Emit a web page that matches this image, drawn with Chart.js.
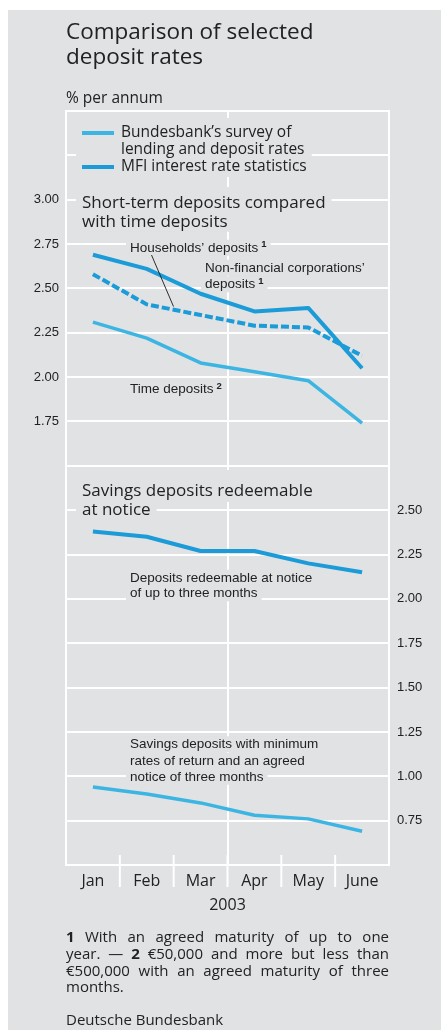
<!DOCTYPE html>
<html>
<head>
<meta charset="utf-8">
<title>Comparison of selected deposit rates</title>
<script src="https://cdn.jsdelivr.net/npm/chart.js@4.4.1/dist/chart.umd.min.js"></script>
<style>
  html, body { margin: 0; padding: 0; background: #fff; }
  #chartBox { position: relative; width: 441px; height: 1030px; }
</style>
</head>
<body>
<div id="chartBox"><canvas id="depositChart" width="441" height="1030"></canvas></div>
<script>
// months of 2003
const months = ["Jan", "Feb", "Mar", "Apr", "May", "June"];

// upper panel, % per annum, left axis
const nfcDeposits = [2.69, 2.61, 2.47, 2.37, 2.39, 2.05];        // MFI statistics
const householdDeposits = [2.58, 2.41, 2.35, 2.29, 2.28, 2.12];  // MFI statistics
const timeDeposits = [2.31, 2.22, 2.08, 2.03, 1.98, 1.74];       // Bundesbank survey

// lower panel, % per annum, right axis
const noticeDeposits = [2.38, 2.35, 2.27, 2.27, 2.20, 2.15];     // MFI statistics
const savingsMinRate = [0.94, 0.90, 0.85, 0.78, 0.76, 0.69];     // Bundesbank survey

// tick labels that are printed on each axis
const leftTicks = [1.75, 2.00, 2.25, 2.50, 2.75, 3.00];
const rightTicks = [0.75, 1.00, 1.25, 1.50, 1.75, 2.00, 2.25, 2.50];

const BG = "#e1e2e4";
const INK = "#222222";
const MFI_BLUE = "#1b9bd7";
const SURVEY_BLUE = "#3db5e2";

const SANS = '"Open Sans", "Noto Sans", sans-serif';
const NARROW = '"Liberation Sans", Arial, sans-serif';

function tickText(list) {
  return function (value) {
    const v = Math.round(value * 100) / 100;
    return list.indexOf(v) >= 0 ? v.toFixed(2) : "";
  };
}

// text lines inside the plot, each one on its own grey patch
const legendLines = [
  { text: "Bundesbank’s survey of", y: 137 },
  { text: "lending and deposit rates", y: 154 },
  { text: "MFI interest rate statistics", y: 171 }
];
const headLines = [
  { text: "Short-term deposits compared", x: 82, y: 208, top: 21, bottom: 5 },
  { text: "with time deposits", x: 82, y: 226.7, top: 13.7, bottom: 5 },
  { text: "Savings deposits redeemable", x: 82, y: 496, top: 26, bottom: 6 },
  { text: "at notice", x: 82, y: 515, top: 13, bottom: 5 }
];
const noteLines = [
  { text: "Households’ deposits", sup: "1", x: 130, y: 251.7 },
  { text: "Non-financial corporations’", x: 205, y: 271.7 },
  { text: "deposits", sup: "1", x: 205, y: 288.3 },
  { text: "Time deposits", sup: "2", x: 130, y: 393.3 },
  { text: "Deposits redeemable at notice", x: 130, y: 581.7 },
  { text: "of up to three months", x: 130, y: 597.3 },
  { text: "Savings deposits with minimum", x: 130, y: 748.3 },
  { text: "rates of return and an agreed", x: 130, y: 765 },
  { text: "notice of three months", x: 130, y: 780.7 }
];

// footnote, line by line, bold runs marked
const footLines = [
  [["1", true], ["With"], ["an"], ["agreed"], ["maturity"], ["of"], ["up"], ["to"], ["one"]],
  [["year."], ["—"], ["2", true], ["€50,000"], ["and"], ["more"], ["but"], ["less"], ["than"]],
  [["€500,000"], ["with"], ["an"], ["agreed"], ["maturity"], ["of"], ["three"]],
  [["months."]]
];

const panelPlugin = {
  id: "panelText",
  beforeDraw(chart) {
    const ctx = chart.ctx;
    ctx.save();
    ctx.fillStyle = "#ffffff";
    ctx.fillRect(0, 0, chart.width, chart.height);
    ctx.fillStyle = BG;
    ctx.fillRect(8, 10, chart.width - 8, chart.height - 10);
    ctx.restore();
  },
  beforeDatasetsDraw(chart) {
    const ctx = chart.ctx;
    const area = chart.chartArea;
    const xs = chart.scales.x;
    ctx.save();
    ctx.textAlign = "left";
    ctx.textBaseline = "alphabetic";

    // month separators below the frame
    ctx.strokeStyle = "#ffffff";
    ctx.lineWidth = 2;
    for (let i = 1; i < months.length; i++) {
      const px = (xs.getPixelForValue(i - 1) + xs.getPixelForValue(i)) / 2;
      ctx.beginPath();
      ctx.moveTo(px, area.bottom - 10);
      ctx.lineTo(px, area.bottom + 22);
      ctx.stroke();
    }

    // legend
    ctx.font = "15.5px " + SANS;
    let maxW = 0;
    legendLines.forEach(l => { maxW = Math.max(maxW, ctx.measureText(l.text).width); });
    ctx.fillStyle = BG;
    ctx.fillRect(76, 118, 121 + maxW + 5 - 76, 59);
    ctx.lineWidth = 4;
    ctx.strokeStyle = SURVEY_BLUE;
    ctx.beginPath(); ctx.moveTo(82, 133); ctx.lineTo(114, 133); ctx.stroke();
    ctx.strokeStyle = MFI_BLUE;
    ctx.beginPath(); ctx.moveTo(82, 167); ctx.lineTo(114, 167); ctx.stroke();
    ctx.fillStyle = INK;
    legendLines.forEach(l => ctx.fillText(l.text, 121, l.y));

    // panel headings
    ctx.font = "17px " + SANS;
    headLines.forEach(l => {
      const w = ctx.measureText(l.text).width;
      ctx.fillStyle = BG;
      ctx.fillRect(l.x - 6, l.y - l.top, w + 12, l.top + l.bottom);
      ctx.fillStyle = INK;
      ctx.fillText(l.text, l.x, l.y);
    });

    // series labels
    noteLines.forEach(l => {
      ctx.font = "13.5px " + NARROW;
      let w = ctx.measureText(l.text).width;
      let supW = 0;
      if (l.sup) {
        ctx.font = "bold 9.5px " + NARROW;
        supW = ctx.measureText(l.sup).width + 3;
      }
      ctx.fillStyle = BG;
      ctx.fillRect(l.x - 4, l.y - 12, w + supW + 8, 16);
      ctx.fillStyle = INK;
      ctx.font = "13.5px " + NARROW;
      ctx.fillText(l.text, l.x, l.y);
      if (l.sup) {
        ctx.font = "bold 9.5px " + NARROW;
        ctx.fillText(l.sup, l.x + w + 3, l.y - 4.5);
      }
    });
    ctx.restore();
  },
  afterDatasetsDraw(chart) {
    const ctx = chart.ctx;
    ctx.save();
    // leader from the households label to its line
    ctx.strokeStyle = "#1a1a1a";
    ctx.lineWidth = 0.9;
    ctx.beginPath();
    ctx.moveTo(151.5, 255);
    ctx.lineTo(173.5, 306.5);
    ctx.stroke();
    ctx.restore();
  },
  afterDraw(chart) {
    const ctx = chart.ctx;
    const area = chart.chartArea;
    ctx.save();
    ctx.fillStyle = INK;
    ctx.textAlign = "left";
    ctx.textBaseline = "alphabetic";

    ctx.font = "22.5px " + SANS;
    ctx.fillText("Comparison of selected", 66, 39);
    ctx.fillText("deposit rates", 66, 63.5);

    ctx.font = "15.5px " + SANS;
    ctx.fillText("% per annum", 66, 102.5);

    ctx.font = "16px " + SANS;
    ctx.textAlign = "center";
    ctx.fillText("2003", (area.left + area.right) / 2, 910);
    ctx.textAlign = "left";

    // justified footnote
    const left = area.left;
    const width = area.right - area.left;
    const base = [942.3, 959, 975.7, 992.3];
    const fontOf = b => (b ? "bold " : "") + "15px " + SANS;
    footLines.forEach((words, li) => {
      const widths = words.map(w => { ctx.font = fontOf(w[1]); return ctx.measureText(w[0]).width; });
      const sum = widths.reduce((a, b) => a + b, 0);
      ctx.font = fontOf(false);
      const space = ctx.measureText(" ").width;
      const last = li === footLines.length - 1;
      const gap = last || words.length < 2 ? space : (width - sum) / (words.length - 1);
      let x = left;
      words.forEach((w, i) => {
        ctx.font = fontOf(w[1]);
        ctx.fillText(w[0], x, base[li]);
        x += widths[i] + gap;
      });
    });

    ctx.font = "15px " + SANS;
    ctx.fillText("Deutsche Bundesbank", 66, 1025);
    ctx.restore();
  }
};

const ctx = document.getElementById("depositChart").getContext("2d");
const depositChart = new Chart(ctx, {
  type: "line",
  data: {
    labels: months,
    datasets: [
      {
        label: "Non-financial corporations’ deposits",
        data: nfcDeposits,
        yAxisID: "y",
        borderColor: MFI_BLUE,
        borderWidth: 4
      },
      {
        label: "Households’ deposits",
        data: householdDeposits,
        yAxisID: "y",
        borderColor: MFI_BLUE,
        borderWidth: 4,
        borderDash: [8, 3]
      },
      {
        label: "Time deposits",
        data: timeDeposits,
        yAxisID: "y",
        borderColor: SURVEY_BLUE,
        borderWidth: 3.5
      },
      {
        label: "Deposits redeemable at notice of up to three months",
        data: noticeDeposits,
        yAxisID: "y2",
        borderColor: MFI_BLUE,
        borderWidth: 4
      },
      {
        label: "Savings deposits with minimum rates of return",
        data: savingsMinRate,
        yAxisID: "y2",
        borderColor: SURVEY_BLUE,
        borderWidth: 3.5
      }
    ]
  },
  options: {
    responsive: false,
    animation: false,
    devicePixelRatio: 1,
    layout: { padding: { top: 111, left: 0, right: 0, bottom: 0 } },
    elements: {
      point: { radius: 0, hoverRadius: 0 },
      line: { tension: 0, fill: false, borderCapStyle: "butt", borderJoinStyle: "round" }
    },
    plugins: {
      legend: { display: false },
      title: { display: false },
      tooltip: { enabled: false }
    },
    scales: {
      x: {
        type: "category",
        offset: true,
        grid: {
          offset: true,
          drawTicks: false,
          lineWidth: 2,
          color: c => (c.index === 3 ? "#ffffff" : "rgba(0,0,0,0)")
        },
        border: { display: true, color: "#ffffff", width: 2 },
        ticks: {
          color: INK,
          font: { family: SANS, size: 16 },
          padding: 7,
          maxRotation: 0,
          autoSkip: false
        },
        afterFit: s => { s.height = 165; }
      },
      y: {
        position: "left",
        min: -0.75,
        max: 3.5,
        grid: { color: "#ffffff", lineWidth: 2, drawTicks: false },
        border: { display: true, color: "#ffffff", width: 2 },
        ticks: {
          stepSize: 0.25,
          autoSkip: false,
          padding: 7,
          color: INK,
          font: { family: NARROW, size: 13 },
          callback: tickText(leftTicks)
        },
        afterFit: s => { s.width = 66; }
      },
      y2: {
        position: "right",
        min: 0.5,
        max: 4.75,
        grid: { drawOnChartArea: false, drawTicks: false },
        border: { display: true, color: "#ffffff", width: 2 },
        ticks: {
          stepSize: 0.25,
          autoSkip: false,
          padding: 8,
          color: INK,
          font: { family: NARROW, size: 13 },
          callback: tickText(rightTicks)
        },
        afterFit: s => { s.width = 52; }
      }
    }
  },
  plugins: [panelPlugin]
});
</script>
</body>
</html>
